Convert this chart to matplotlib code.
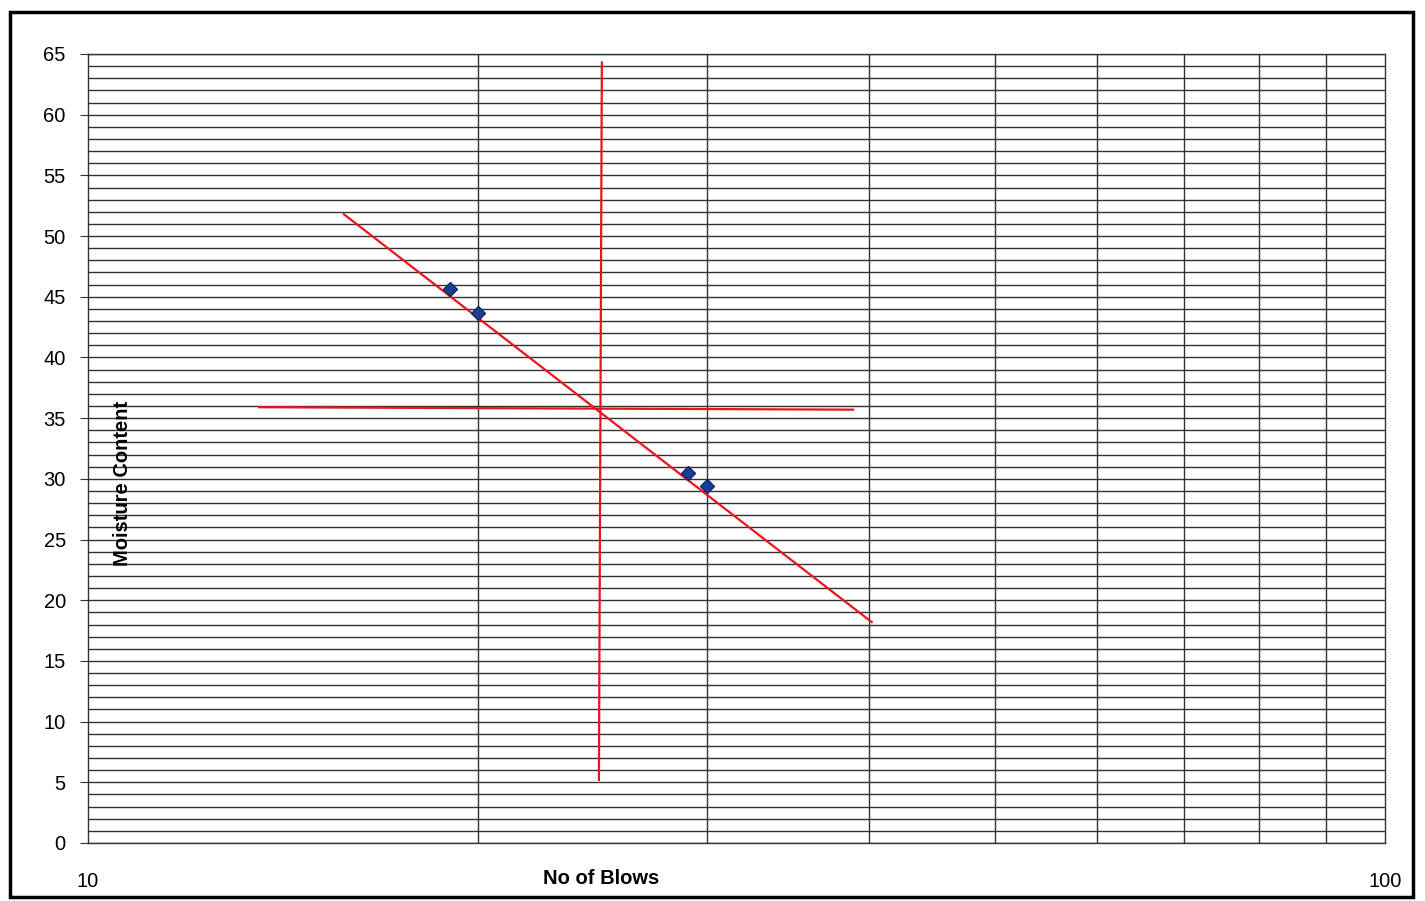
import matplotlib
matplotlib.use("Agg")
import matplotlib.pyplot as plt
from matplotlib.patches import Rectangle
import numpy as np

plt.rcParams['font.family'] = ['Liberation Sans', 'DejaVu Sans']

# data
blows = [19, 20, 29, 30]
moisture = [45.6, 43.7, 30.5, 29.4]

# hand-drawn red lines (flow line and 25-blow construction)
flow_x = [15.75, 40.2]
flow_y = [51.8, 18.2]
vert_x = [24.9, 24.77]
vert_y = [64.3, 5.2]
horiz_x = [13.55, 38.9]
horiz_y = [35.9, 35.7]

y_major = np.arange(0, 66, 5)
y_minor = np.arange(0, 66, 1)
x_grid = [20, 30, 40, 50, 60, 70, 80, 90]


def main():
    fig = plt.figure(figsize=(14.25, 9.01), dpi=100)
    ax = fig.add_axes([88/1425, 1 - 843/901, (1385-88)/1425, (843-54)/901])

    ax.set_xscale('log')
    ax.set_xlim(10, 100)
    ax.set_ylim(0, 65)

    # paper grid
    for yv in y_minor:
        ax.axhline(yv, color='#333333', lw=1.0, zorder=1)
    for xv in x_grid:
        ax.axvline(xv, color='#333333', lw=1.0, zorder=1)

    ax.plot(flow_x, flow_y, color='#e8141e', lw=1.6, zorder=3)
    ax.plot(vert_x, vert_y, color='#e8141e', lw=1.6, zorder=3)
    ax.plot(horiz_x, horiz_y, color='#e8141e', lw=1.6, zorder=3)

    ax.plot(blows, moisture, linestyle='none', marker='D', markersize=7.5,
            color='#1c3f94', markeredgecolor='#10286a', zorder=4)

    ax.set_yticks(y_major)
    ax.set_yticks(y_minor, minor=True)
    ax.tick_params(axis='y', which='major', length=6, direction='out',
                   labelsize=14.5, pad=10, color='#333333')
    ax.tick_params(axis='y', which='minor', length=0)
    ax.set_xticks([10, 100])
    ax.set_xticklabels(['10', '100'])
    ax.xaxis.set_minor_locator(matplotlib.ticker.NullLocator())
    ax.tick_params(axis='x', which='major', length=0, labelsize=14.5, pad=21)

    for s in ax.spines.values():
        s.set_color('#333333')
        s.set_linewidth(1.0)

    fig.text(601/1425, 1 - 878/901, 'No of Blows', fontsize=14.5, fontweight='bold',
             ha='center', va='center')
    fig.text(122/1425, 1 - 483/901, 'Moisture Content', fontsize=14.5,
             fontweight='bold', rotation=90, ha='center', va='center', zorder=5)

    # outer chart frame
    fig.patches.append(Rectangle((10/1425, 1 - 897/901), 1403/1425, 885/901,
                                 transform=fig.transFigure, fill=False,
                                 edgecolor='black', lw=2.5))

    fig.savefig('out.png', dpi=100)


if __name__ == '__main__':
    main()
